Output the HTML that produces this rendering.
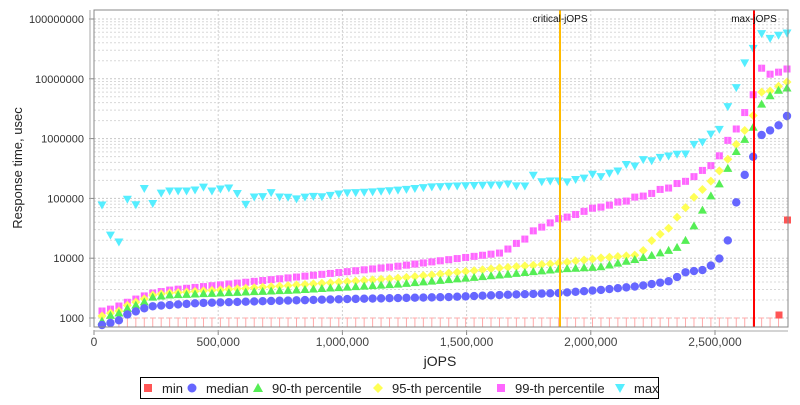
<!DOCTYPE html>
<html><head><meta charset="utf-8"><style>
body{margin:0;background:#fff;width:800px;height:400px;overflow:hidden;font-family:"Liberation Sans","DejaVu Sans",sans-serif}
</style></head><body>
<svg id="s" width="800" height="400" xmlns="http://www.w3.org/2000/svg" font-family="Liberation Sans, DejaVu Sans, sans-serif"></svg>
<script>
const s=document.getElementById('s');let h='';
const L=94,R=788,T=10,B=327;
const yv=v=>318-59.8*Math.log10(v/1000);
h+=`<rect x="${L}" y="${T}" width="${R-L}" height="${B-T}" fill="#fff" stroke="#888"/>`;
for(let d=0;d<6;d++){for(let m=1;m<10;m++){const y=yv(1000*Math.pow(10,d)*m);if(y<T||y>B)continue;
h+=`<line x1="${L}" x2="${R}" y1="${y}" y2="${y}" stroke="${m==1?'#c8c8c8':'#d8d8d8'}" stroke-dasharray="2,2"/>`;}}
for(let k=1;k<=5;k++){const x=L+k*124.2;h+=`<line x1="${x}" x2="${x}" y1="${T}" y2="${B}" stroke="#d0d0d0" stroke-dasharray="2,2"/>`;}
['1000','10000','100000','1000000','10000000','100000000'].forEach((t,i)=>{const y=yv(1000*Math.pow(10,i));h+=`<text x="84" y="${y+4}" font-size="11" text-anchor="end" fill="#333">${t}</text><line x1="89" x2="94" y1="${y}" y2="${y}" stroke="#888"/>`;});
['0','500,000','1,000,000','1,500,000','2,000,000','2,500,000'].forEach((t,i)=>{const x=L+i*124.2;h+=`<text x="${x}" y="346" font-size="12" text-anchor="middle" fill="#444">${t}</text><line x1="${x}" x2="${x}" y1="330" y2="335" stroke="#888"/>`;});
h+=`<line x1="90" x2="90" y1="${T}" y2="${B}" stroke="#aaa"/><line x1="${L}" x2="${R}" y1="331" y2="331" stroke="#aaa"/>`;
h+=`<text x="440" y="366" font-size="14" text-anchor="middle" fill="#222">jOPS</text>`;
h+=`<text transform="translate(22,168) rotate(-90)" font-size="13" text-anchor="middle" fill="#222">Response time, usec</text>`;
const N=82,st=(787-102)/81;
function interp(a,x){if(x<=a[0][0])return a[0][1];for(let i=1;i<a.length;i++){if(x<=a[i][0]){const t=(x-a[i-1][0])/(a[i][0]-a[i-1][0]);return a[i-1][1]+t*(a[i][1]-a[i-1][1]);}}return a[a.length-1][1];}
const med=[[102,325],[110,323],[120,320],[128,314],[137,311],[145,308],[154,306],[170,305],[200,303],[270,301],[350,299],[450,297],[500,295],[560,293],[600,290],[640,286],[670,281],[686,272],[703,270],[712,265],[720,258],[728,240],[737,199],[745,174],[754,155],[762,134],[771,130],[779,125],[787,116]];
const g90=[[102,321],[111,315],[119,313],[128,308],[136,305],[144,302],[153,297],[170,295],[297,290],[400,284],[500,275],[560,269],[600,267],[637,259],[653,255],[670,250],[678,247],[687,239],[695,224],[703,209],[712,194],[720,183],[728,168],[737,150],[745,139],[754,126],[762,103],[771,95],[779,90],[787,88]];
const y95=[[102,316],[111,313],[119,311],[128,305],[136,302],[144,299],[153,295],[170,293],[297,285],[400,278],[500,268],[560,263],[600,258],[637,255],[644,250],[653,239],[669,228],[678,216],[687,206],[695,196],[703,189],[712,180],[720,170],[728,159],[737,143],[745,130],[754,114],[762,91],[771,91],[779,86],[787,82]];
const p99=[[102,311],[111,309],[119,306],[128,302],[136,299],[144,296],[153,293],[170,290],[297,277],[400,266],[500,253],[508,249],[517,243],[525,239],[533,231],[542,227],[550,223],[560,218],[568,217],[577,214],[585,211],[593,208],[602,207],[610,205],[618,202],[627,201],[635,197],[644,196],[653,193],[661,189],[669,188],[678,183],[687,181],[695,176],[703,170],[712,165],[720,155],[728,140],[737,128],[745,112],[754,93],[762,67],[771,75],[779,72],[787,69]];
const mx=[[102,205],[111,237],[119,242],[128,196],[136,205],[144,188],[153,204],[162,192],[170,191],[178,191],[187,191],[195,190],[204,187],[212,191],[220,189],[229,188],[237,193],[245,205],[254,197],[262,197],[270,192],[279,197],[287,197],[297,199],[310,196],[320,197],[345,193],[370,192],[400,190],[430,187],[455,186],[490,185],[500,185],[508,184],[517,186],[525,186],[533,175],[542,182],[550,181],[560,181],[568,182],[577,179],[585,178],[593,174],[602,177],[610,173],[618,171],[627,164],[635,166],[644,159],[653,161],[661,157],[669,156],[678,154],[687,154],[695,143],[703,142],[712,133],[720,129],[728,106],[737,86],[745,62],[754,47],[762,33],[771,39],[779,35],[787,33]];
let pts='';
for(let i=0;i<N;i++){const x=102+i*st;
 if(i<81){pts+=`<line x1="${x-2.5}" x2="${x+2.5}" y1="318" y2="318" stroke="#ffaaaa"/><line x1="${x}" x2="${x}" y1="318" y2="327" stroke="#ffaaaa"/>`;}
 let y=interp(p99,x);pts+=`<rect x="${x-3.5}" y="${y-3.5}" width="7" height="7" fill="#ff66ff"/><line x1="${x}" x2="${x}" y1="${y-3.5}" y2="${y+3.5}" stroke="#ff99ff"/>`;
 y=interp(y95,x);pts+=`<polygon points="${x},${y-4.5} ${x+4.5},${y} ${x},${y+4.5} ${x-4.5},${y}" fill="#ffff55"/>`;
 y=interp(g90,x);pts+=`<polygon points="${x},${y-4.5} ${x+4.5},${y+3.5} ${x-4.5},${y+3.5}" fill="#55ee55"/>`;
 y=interp(med,x);pts+=`<circle cx="${x}" cy="${y}" r="4.2" fill="#6666ff"/>`;
 y=interp(mx,x);pts+=`<polygon points="${x-4.5},${y-3.5} ${x+4.5},${y-3.5} ${x},${y+4.5}" fill="#55eeff"/>`;
}
pts+=`<rect x="775.5" y="311.5" width="7" height="7" fill="#ff5555"/><rect x="784" y="216.5" width="7" height="7" fill="#ff5555"/>`;
h+=pts;
h+=`<line x1="560" x2="560" y1="${T}" y2="${B}" stroke="#ffbb00" stroke-width="2"/><line x1="754" x2="754" y1="${T}" y2="${B}" stroke="#ff0000" stroke-width="2"/>`;
h+=`<text x="560" y="22" font-size="10" text-anchor="middle" fill="#111">critical-jOPS</text><text x="754" y="22" font-size="10" text-anchor="middle" fill="#111">max-jOPS</text>`;
h+=`<rect x="${L}" y="${T}" width="${R-L}" height="${B-T}" fill="none" stroke="#888"/>`;
h+=`<rect x="140.5" y="377.5" width="518" height="21" fill="#fff" stroke="#000"/>`;
const lg=[[148,'min'],[192,'median'],[258,'90-th percentile'],[378,'95-th percentile'],[501,'99-th percentile'],[620,'max']];
lg.forEach(([x,t],i)=>{const y=388;let m='';
 if(i==0)m=`<rect x="${x-4}" y="${y-4}" width="8" height="8" fill="#ff5555"/>`;
 if(i==1)m=`<circle cx="${x}" cy="${y}" r="4.5" fill="#6666ff"/>`;
 if(i==2)m=`<polygon points="${x},${y-5} ${x+5},${y+4} ${x-5},${y+4}" fill="#55ee55"/>`;
 if(i==3)m=`<polygon points="${x},${y-5} ${x+5},${y} ${x},${y+5} ${x-5},${y}" fill="#ffff55"/>`;
 if(i==4)m=`<rect x="${x-4}" y="${y-4}" width="8" height="8" fill="#ff66ff"/>`;
 if(i==5)m=`<polygon points="${x-5},${y-4} ${x+5},${y-4} ${x},${y+5}" fill="#55eeff"/>`;
 h+=m+`<text x="${x+14}" y="${y+5}" font-size="13" fill="#222">${t}</text>`;});
s.innerHTML=h;
</script>
</body></html>
